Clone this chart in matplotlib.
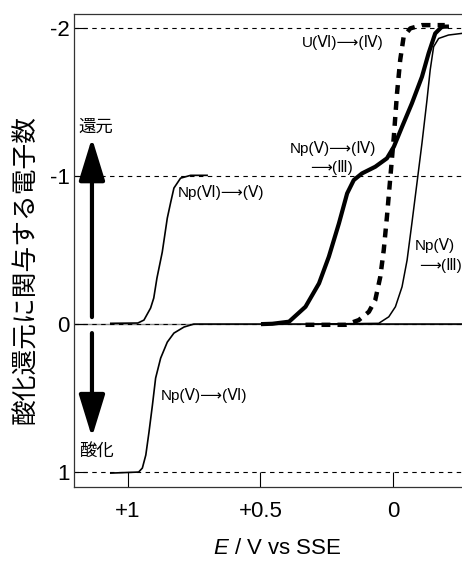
import matplotlib
matplotlib.use('Agg')
import matplotlib.pyplot as plt

plt.rcParams['font.family'] = ['Liberation Sans', 'DejaVu Sans', 'Noto Sans CJK JP']
plt.rcParams['mathtext.fontset'] = 'custom'
plt.rcParams['mathtext.it'] = 'Liberation Sans:italic'
plt.rcParams['mathtext.rm'] = 'Liberation Sans'

# ----- polarographic waves: potential E [V vs SSE], electrons n -----
np6_to_5_E = [1.064, 0.962, 0.939, 0.914, 0.902, 0.890, 0.870, 0.851, 0.838, 0.826, 0.801, 0.763, 0.701]
np6_to_5_n = [-0.005, -0.007, -0.027, -0.108, -0.176, -0.311, -0.486, -0.716, -0.824, -0.919, -0.986, -1.005, -1.005]

np5_to_6_E = [1.064, 0.959, 0.945, 0.932, 0.920, 0.907, 0.895, 0.876, 0.851, 0.826, 0.788, 0.751, -0.26]
np5_to_6_n = [1.007, 1.0, 0.973, 0.885, 0.73, 0.547, 0.365, 0.23, 0.122, 0.061, 0.02, 0.0, 0.0]

np5_to_3_E = [0.49, 0.455, 0.392, 0.330, 0.279, 0.242, 0.204, 0.173, 0.148, 0.117, 0.067, 0.023,
              -0.003, -0.034, -0.071, -0.109, -0.134, -0.159, -0.184, -0.203]
np5_to_3_n = [0.0, -0.002, -0.016, -0.117, -0.275, -0.455, -0.680, -0.883, -0.973, -1.018, -1.063, -1.12,
              -1.198, -1.333, -1.491, -1.671, -1.829, -1.964, -2.009, -2.01]

u6_to_4_E = [0.33, 0.179, 0.129, 0.091, 0.067, 0.048, 0.035, 0.023, 0.010, -0.003, -0.015, -0.027,
             -0.040, -0.065, -0.109, -0.195]
u6_to_4_n = [0.005, 0.005, -0.027, -0.083, -0.162, -0.32, -0.5, -0.725, -0.995, -1.266, -1.559, -1.784,
             -1.941, -1.998, -2.02, -2.02]

np5_to_3b_E = [0.30, 0.054, 0.016, -0.009, -0.034, -0.053, -0.071, -0.090, -0.109, -0.128, -0.140,
               -0.153, -0.172, -0.209, -0.259]
np5_to_3b_n = [0.0, -0.005, -0.049, -0.117, -0.252, -0.432, -0.68, -0.95, -1.221, -1.514, -1.716,
               -1.874, -1.93, -1.953, -1.964]

levels = [-2, -1, 0, 1]
ytick_labels = ['-2', '-1', '0', '1']
xticks = [1.0, 0.5, 0.0]
xtick_labels = ['+1', '+0.5', '0']

fig = plt.figure(figsize=(4.62, 5.61), dpi=100)
ax = fig.add_axes([0.160, 0.1319, 0.840, 0.8431])

ax.axhline(0, color='#888888', lw=1.0, zorder=1)
for lv in levels:
    ax.axhline(lv, color='black', lw=0.8, ls=(0, (4, 4)), zorder=1)

ax.plot(np6_to_5_E, np6_to_5_n, color='black', lw=1.2, zorder=3, solid_joinstyle='round')
ax.plot(np5_to_6_E, np5_to_6_n, color='black', lw=1.2, zorder=3, solid_joinstyle='round')
ax.plot(np5_to_3b_E, np5_to_3b_n, color='black', lw=1.1, zorder=3, solid_joinstyle='round')
ax.plot(np5_to_3_E, np5_to_3_n, color='black', lw=3.0, zorder=4, solid_joinstyle='round')
ax.plot(u6_to_4_E, u6_to_4_n, color='black', lw=3.2, dashes=(2, 1.6), zorder=4)

# reduction / oxidation arrows
head = '-|>,head_length=2.6,head_width=0.8'
ax.annotate('', xy=(1.135, -1.257), xytext=(1.135, -0.047),
            arrowprops=dict(arrowstyle=head, lw=3, color='black', shrinkA=0, shrinkB=0))
ax.annotate('', xy=(1.135, 0.764), xytext=(1.135, 0.061),
            arrowprops=dict(arrowstyle=head, lw=3, color='black', shrinkA=0, shrinkB=0))
ax.text(1.12, -1.331, '還元', fontsize=12.5, ha='center', va='center', family='Noto Sans CJK JP')
ax.text(1.12, 0.865, '酸化', fontsize=12.5, ha='center', va='center', family='Noto Sans CJK JP')

lab = dict(fontsize=11, va='center', ha='left', zorder=5)
ax.text(0.812, -0.892, 'Np(Ⅵ)⟶(Ⅴ)', **lab)
ax.text(0.876, 0.48, 'Np(Ⅴ)⟶(Ⅵ)', **lab)
ax.text(0.342, -1.905, 'U(Ⅵ)⟶(Ⅳ)', **lab)
ax.text(0.391, -1.189, 'Np(Ⅴ)⟶(Ⅳ)', **lab)
ax.text(0.312, -1.061, '⟶(Ⅲ)', **lab)
ax.text(-0.083, -0.534, 'Np(Ⅴ)', **lab)
ax.text(-0.098, -0.399, '⟶(Ⅲ)', **lab)

ax.set_xlim(1.203, -0.26)
ax.set_ylim(1.101, -2.095)
ax.set_xticks(xticks)
ax.set_xticklabels(xtick_labels)
ax.set_yticks(levels)
ax.set_yticklabels(ytick_labels)
ax.tick_params(axis='x', direction='in', length=10.8, width=0.8, labelsize=16, pad=10)
ax.tick_params(axis='y', direction='in', length=9.5, width=0.8, labelsize=16, pad=3)

ax.spines['right'].set_visible(False)
for side in ['left', 'top', 'bottom']:
    ax.spines[side].set_linewidth(0.9)
    ax.spines[side].set_color('#333333')

W, H = 462, 561
fig.text(277 / W, 1 - 548 / H, '$E$ / V vs SSE', fontsize=16, ha='center', va='center')
fig.text(26 / W, 1 - 269 / H, '酸化還元に関与する電子数', fontsize=18.5, rotation=90,
         ha='center', va='center', family='Noto Sans CJK JP')

fig.savefig('out.png', dpi=100)
